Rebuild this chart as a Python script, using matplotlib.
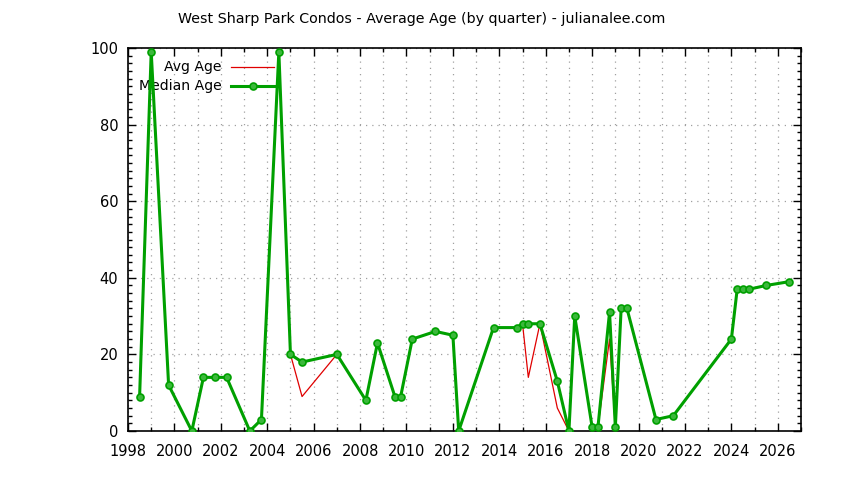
import matplotlib
matplotlib.use('Agg')
import matplotlib.pyplot as plt
from matplotlib.ticker import MultipleLocator

# quarter positions (decimal year) and ages
quarters = [1998.5, 1999.0, 1999.75, 2000.75, 2001.25, 2001.75, 2002.25,
            2003.25, 2003.75, 2004.5, 2005.0, 2005.5, 2007.0, 2008.25,
            2008.75, 2009.5, 2009.75, 2010.25, 2011.25, 2012.0, 2012.25,
            2013.75, 2014.75, 2015.0, 2015.25, 2015.75, 2016.5, 2017.0,
            2017.25, 2018.0, 2018.25, 2018.75, 2019.0, 2019.25, 2019.5,
            2020.75, 2021.5, 2024.0, 2024.25, 2024.5, 2024.75, 2025.5,
            2026.5]
median_age = [9, 99, 12, 0, 14, 14, 14,
              0, 3, 99, 20, 18, 20, 8,
              23, 9, 9, 24, 26, 25, 0,
              27, 27, 28, 28, 28, 13, 0,
              30, 1, 1, 31, 1, 32, 32,
              3, 4, 24, 37, 37, 37, 38,
              39]
avg_age = [9, 99, 12, 0, 14, 14, 14,
           0, 3, 99, 20, 9, 20, 8,
           23, 9, 9, 24, 26, 25, 0,
           27, 27, 28, 14, 28, 6, 0,
           30, 1, 1, 24, 1, 32, 32,
           3, 4, 24, 37, 37, 37, 38,
           39]

RED = '#e00000'
GREEN = '#00a000'

plt.rcParams['font.family'] = 'DejaVu Sans'
fig = plt.figure(figsize=(8.44, 4.8), dpi=100)
ax = fig.add_axes([128/844, 1-431/480, 673/844, 383/480])

ax.plot(quarters, avg_age, color=RED, lw=0.9, zorder=3)
ax.plot(quarters, median_age, color=GREEN, lw=2.2, marker='o', ms=5,
        mfc='#3cb83c', mec=GREEN, mew=1.2, zorder=4)

ax.set_xlim(1998, 2027)
ax.set_ylim(0, 100)
ax.xaxis.set_major_locator(MultipleLocator(2))
ax.xaxis.set_minor_locator(MultipleLocator(1))
ax.yaxis.set_major_locator(MultipleLocator(20))
ax.yaxis.set_minor_locator(MultipleLocator(2))
ax.tick_params(which='both', direction='in', top=True, right=True,
               labelsize=10.5, colors='black')
ax.tick_params(axis='x', pad=9)
ax.tick_params(axis='y', pad=7)
ax.tick_params(which='major', length=6, width=1)
ax.tick_params(which='minor', length=3, width=1)
ax.grid(True, which='both', axis='x', color='#a0a0a0', ls=(0, (1, 4)), lw=0.9)
ax.grid(True, which='major', axis='y', color='#a0a0a0', ls=(0, (1, 4)), lw=0.9)
for s in ax.spines.values():
    s.set_linewidth(1.2)

# gnuplot-style key: right aligned text, sample after it
ax.text(0.139, 0.95, 'Avg Age', transform=ax.transAxes, ha='right',
        va='center', fontsize=10.1)
ax.text(0.139, 0.9, 'Median Age', transform=ax.transAxes, ha='right',
        va='center', fontsize=10.1)
ax.plot([0.153, 0.217], [0.95, 0.95], transform=ax.transAxes, color=RED,
        lw=0.9, clip_on=False)
ax.plot([0.153, 0.217], [0.9, 0.9], transform=ax.transAxes, color=GREEN,
        lw=2.2, clip_on=False)
ax.plot([0.186], [0.9], transform=ax.transAxes, color=GREEN, marker='o',
        ms=5, mfc='#3cb83c', mec=GREEN, mew=1.2, clip_on=False)

fig.text(0.5, 1-19/480, 'West Sharp Park Condos - Average Age (by quarter) - julianalee.com',
         ha='center', va='center', fontsize=10.3)

fig.savefig('out.png', dpi=100)
